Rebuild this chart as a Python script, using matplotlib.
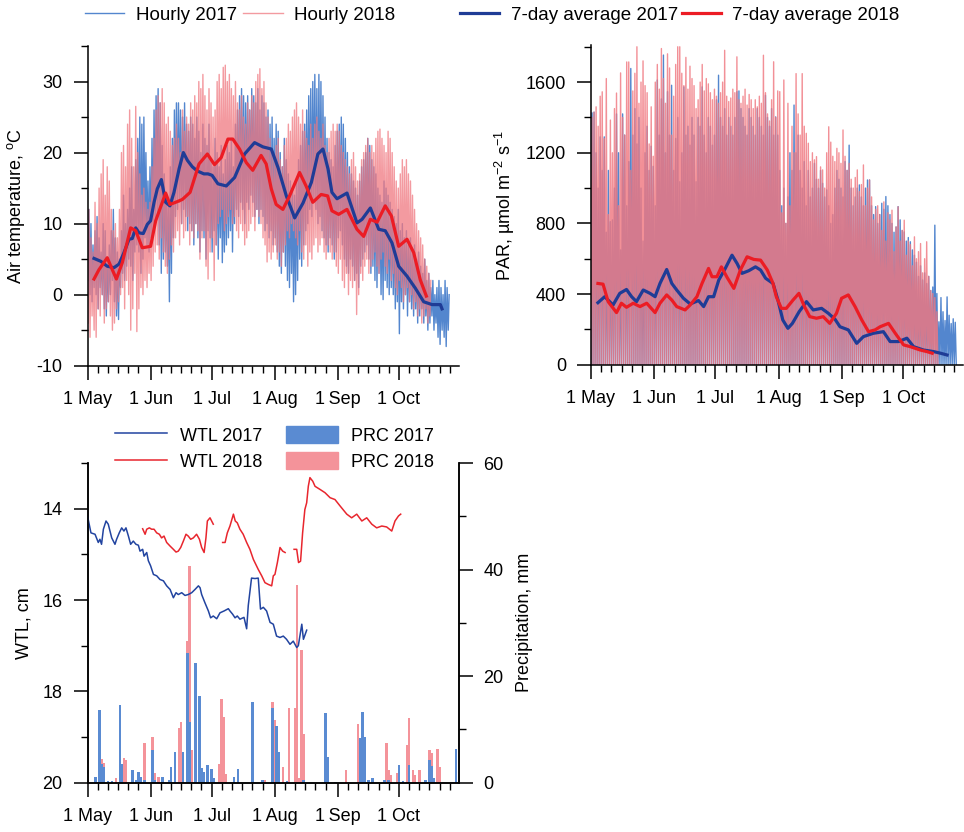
import numpy as np
import matplotlib
matplotlib.use('Agg')
import matplotlib.pyplot as plt
from matplotlib.lines import Line2D
from matplotlib.patches import Patch

plt.rcParams['font.family'] = ['Liberation Sans', 'DejaVu Sans']
plt.rcParams['mathtext.fontset'] = 'custom'
plt.rcParams['mathtext.rm'] = 'Liberation Sans'
plt.rcParams['mathtext.it'] = 'Liberation Sans:italic'
plt.rcParams['mathtext.default'] = 'regular'
plt.rcParams['axes.unicode_minus'] = False

# ---------------- axis ticks (day 0 = 1 May) ----------------
month_start_days = [0, 31, 61, 92, 123, 153]
month_labels = ['1 May', '1 Jun', '1 Jul', '1\u2009Aug', '1\u2009Sep', '1 Oct']

# ---------------- air temperature: daily max / min of hourly data ----------------
t2017_max = [12, 10, 7, 9, 11, 8, 6, 10, 9, 5,
             7, 9, 12, 8, 6, 5, 9, 14, 10, 12,
             15, 18, 12, 19, 22, 25, 24, 25, 20, 16,
             18, 22, 26, 28, 29, 27, 21, 17, 14, 13,
             18, 22, 26, 27, 27, 26, 25, 27, 24, 23,
             25, 24, 22, 25, 23, 20, 24, 22, 21, 24,
             19, 18, 22, 20, 18, 21, 17, 19, 21, 20,
             22, 18, 24, 26, 28, 29, 28, 27, 28, 26,
             29, 28, 27, 29, 26, 28, 27, 25, 26, 24,
             25, 22, 24, 23, 20, 18, 22, 19, 17, 16,
             15, 14, 16, 19, 21, 23, 24, 26, 28, 29,
             30, 31, 29, 31, 30, 28, 25, 22, 20, 19,
             18, 21, 23, 24, 25, 24, 22, 20, 18, 17,
             16, 15, 14, 16, 18, 19, 20, 22, 21, 19,
             18, 17, 15, 14, 13, 16, 15, 14, 13, 12,
             11, 10, 12, 9, 10, 8, 9, 7, 8, 6,
             7, 5, 6, 4, 3, 5, 2, 3, 1, 2,
             0, 1, 2, 1, 0, 2, 1, 0]
t2017_min = [2, 0, -1, 1, 0, -2, 1, 0, -2, -3,
             -1, 0, 2, -1, -3, -3.5, 1, 3, 2, 4,
             5, 4, 2, 6, 7, 6, 3, 5, 8, 7,
             6, 8, 9, 10, 11, 7, 3, 5, 6, 4,
             -1, 3, 8, 11, 12, 13, 10, 12, 11, 9,
             10, 9, 7, 10, 8, 6, 9, 8, 5, 9,
             8, 6, 9, 7, 5, 8, 4.5, 6, 7, 8,
             9, 6, 10, 12, 11, 13, 12, 10, 13, 12,
             14, 13, 11, 12, 10, 12, 11, 9, 10, 8,
             9, 7, 8, 6, 4, 3, 6, 4, 2, 1,
             3, -1, 0, 2, 5, 4, 7, 9, 10, 12,
             11, 13, 12, 10, 11, 9, 8, 7, 6, 8,
             7, 5, 6, 8, 9, 7, 5, 4, 3, 5,
             4, 2, 3, 1, 4, 5, 6, 7, 5, 3,
             4, 2, 1, 3, 0, -0.7, 2, 1, 0, 1,
             0, -2, -1, -5.5, -1, -2, 0, -3, -1, -2,
             -3, -2, -4, -3, -2, -4, -3, -5, -4, -3,
             -5, -4, -6, -7, -5, -6, -7.3, -5]
t2018_max = [12, 8, 6, 13, 10, 15, 17, 19, 14, 18,
             16, 12, 9, 10, 8, 12, 20, 21, 18, 24,
             26, 22, 18, 26.5, 20, 17, 14, 15, 13, 12,
             13, 18, 22, 26, 28, 27, 29, 27, 24, 25,
             23, 21, 22, 24, 22, 20, 26, 23, 25, 24,
             27, 26, 28, 27, 30, 29, 31, 28, 26, 29,
             27, 25, 26, 30, 31, 29, 32, 32.3, 30, 31,
             29, 28, 30, 27, 26, 28, 25, 24, 27, 26,
             28, 27, 30, 31, 31.8, 29, 30, 27, 25, 22,
             20, 19, 21, 22, 19, 18, 21, 22, 24, 23,
             25, 26, 27, 25, 24, 26, 23, 22, 21, 24,
             22, 24, 25, 23, 22, 24, 21, 20, 22, 23,
             24, 23, 24, 23, 21, 20, 19, 18, 17, 19,
             20, 18, 16, 17, 19, 20, 21, 22, 20, 21,
             20, 22, 23, 23.3, 22, 21, 20, 23, 22, 20,
             18, 16, 15, 17, 19, 18, 19, 17, 16, 14,
             12, 10, 9, 8, 7, 5, 4, 3, 2]
t2018_min = [-4, -6, -3, -5, -6, -2, -3, 0, -4, -2,
             -1, -3, -5, -4, -2, -1, 0, 1, -2, 2,
             0, -5, -2, 3, -5.2, -2, 1, 0, 2, 1,
             3, 2, 4, 6, 7, 5, 8, 6, 4, 3,
             5, 7, 6, 8, 9, 7, 10, 8, 9, 11,
             7, 9, 8, 10, 9, 5, 8, 9, 4, 2.2,
             6, 8, 2, 7, 10, 11, 12, 9, 10, 11,
             12, 10, 11, 9, 8, 10, 9, 7, 8, 9,
             10, 11, 9, 12, 11, 10, 8, 7, 4.6, 6,
             5, 6, 7, 5, 6, 4, 6, 7, 9, 8,
             10, 9, 8, 7, 9, 6, 5, 7, 4, 6,
             5, 7, 8, 6, 7, 8, 6, 5, 7, 6,
             5, 6, 4, 3, 5, 2, 1, 3, 0, 2,
             1, 2, -2.8, 0, 3, 2, 4, 5, 3, 4,
             5, 6, 4, 3, 5, 6, 4, 3, 5, 2,
             3, 1, 0, 2, 1, -1, 0, 1, -1, 0,
             -2, -1, -3, -2, -4, -3, -2, -4, -3]

# 7-day running average of air temperature
t7_2017_day = [3.2, 6.5, 9.7, 13, 15.5, 17.9, 20.4, 22, 23.7, 25.3, 27.4, 29.4, 31, 32.7, 34.3,
               36.3, 38.4, 40.5, 42.5, 45, 47.1, 49.1, 51.5, 54, 57.2, 59.2, 61.2, 64.1, 68.2,
               72.3, 77.2, 82.1, 86.2, 90.3, 93.6, 97.7, 101.8, 105.9, 110, 113.2, 115.7, 118.2,
               120.1, 122.6, 127.5, 132.4, 134.9, 139, 143.1, 146.3, 149.6, 152.9, 157, 161.1,
               165.2, 169.3, 173.4, 174.2]
t7_2017_val = [5.1, 4.7, 4.0, 3.8, 4.3, 5.9, 7.8, 7.9, 9.4, 8.7, 8.6, 9.9, 10.4, 13.0, 14.9,
               16.2, 13.0, 12.5, 14.4, 17.7, 20.0, 18.9, 18.0, 17.4, 17.0, 17.0, 16.8, 15.6, 15.3,
               16.5, 19.8, 21.4, 20.8, 20.5, 17.9, 13.9, 10.8, 12.9, 15.8, 19.8, 20.5, 17.7,
               14.4, 13.5, 14.3, 10.1, 10.6, 12.2, 9.2, 9.0, 7.3, 4.0, 2.6, 0.9,
               -1.0, -1.4, -1.4, -2.0]
t7_2018_day = [3.2, 5.6, 9.7, 12.2, 14.2, 17.1, 21.2, 23.7, 26.9, 31, 33.5, 38.4, 40.5, 43.3,
               46.6, 50.4, 54.8, 58.9, 62.4, 65.7, 69, 71.4, 74.7, 78, 81.2, 85.3, 87.8, 90.3,
               92.7, 96, 99.3, 104.2, 107.4, 110.7, 114.8, 118, 120.1, 123.4, 127.5, 132.4,
               135.7, 139, 142.3, 146.3, 149.3, 152.9, 157, 160.3, 163.5, 166.5]
t7_2018_val = [2.2, 3.5, 5.2, 3.5, 2.2, 4.5, 9.4, 9.0, 6.6, 6.8, 10.4, 14.3, 12.7, 13.0,
               13.4, 14.4, 18.4, 19.8, 18.3, 19.3, 21.9, 21.9, 20.5, 18.6, 17.5, 19.6, 18.4, 14.9,
               12.7, 12.0, 13.9, 17.2, 15.3, 13.0, 14.1, 13.9, 11.8, 11.3, 12.0, 9.2,
               8.2, 10.6, 10.2, 12.5, 11.1, 6.8, 7.8, 5.9, 2.1, -0.2]

# ---------------- PAR: daily peak of hourly data ----------------
par2017_max = [1426, 1430, 1200, 1000, 1290, 1100, 1290, 750, 1100, 810,
               820, 1000, 1420, 1200, 650, 1420, 1300, 900, 1150, 1677,
               1300, 1450, 1250, 1400, 1000, 700, 1200, 1350, 1100, 1237,
               1123, 900, 1612, 1300, 1505, 1753, 1200, 1546, 1300, 1582,
               1100, 1281, 1400, 1036, 1200, 1573, 1300, 1350, 1243, 1400,
               1300, 1036, 1400, 1350, 1573, 1300, 1200, 1400, 1350, 1243,
               1300, 1500, 1639, 1400, 1350, 1450, 1300, 1400, 1350, 1300,
               1400, 1546, 1550, 1450, 1400, 1350, 1300, 1450, 1400, 1350,
               1300, 1450, 1400, 1350, 1300, 1525, 1400, 1350, 1450, 1300,
               1403, 1300, 1100, 900, 1000, 800, 950, 1200, 1100, 1470,
               1200, 1300, 1100, 1000, 1150, 900, 1100, 950, 1000, 1140,
               1050, 1000, 1100, 1027, 950, 990, 900, 800, 850, 1000,
               1100, 1050, 1000, 950, 1150, 1100, 1243, 1000, 900, 950,
               1000, 1018, 950, 900, 1000, 1046, 1046, 900, 850, 895,
               800, 850, 914, 880, 952, 900, 850, 800, 750, 780,
               895, 820, 760, 752, 700, 720, 696, 650, 620, 580,
               500, 560, 480, 520, 460, 500, 420, 440, 790, 403,
               243, 380, 300, 250, 384, 280, 233, 260, 240]
par2018_max = [1400, 1430, 1460, 1350, 1520, 1545, 1280, 1620, 850, 1385,
               1200, 1450, 1538, 900, 1652, 1400, 1300, 1714, 1714, 1100,
               1550, 1650, 1800, 1480, 1600, 1720, 1580, 1540, 1250, 1460,
               1180, 1600, 1700, 1560, 1790, 1620, 1480, 1760, 1680, 1300,
               1520, 1700, 1800, 1800, 1650, 1580, 1740, 1560, 1690, 1620,
               1580, 1450, 1500, 1600, 1700, 1550, 1620, 1590, 1540, 1500,
               1560, 1520, 1480, 1540, 1600, 1780, 1520, 1490, 1510, 1560,
               1540, 1743, 1500, 1480, 1520, 1560, 1470, 1530, 1500, 1450,
               1500, 1460, 1520, 1480, 1752, 1540, 1420, 1380, 1500, 1715,
               1400, 1550, 1546, 860, 1612, 800, 1480, 900, 1350, 1200,
               1648, 1420, 1300, 1648, 1350, 1310, 1254, 1150, 1200, 1160,
               1178, 1050, 1120, 1103, 1000, 1200, 1347, 1260, 1180, 1150,
               1225, 1200, 1140, 1329, 1180, 1100, 1140, 1050, 1000, 1060,
               1103, 980, 1020, 1131, 900, 1000, 1046, 950, 820, 880,
               900, 850, 760, 922, 700, 860, 820, 875, 640, 780,
               894, 700, 760, 818, 620, 700, 680, 560, 724, 600,
               640, 686, 520, 600, 696, 500, 420, 403, 380, 300]

# 7-day running average of PAR
p7_2017_day = [3.4, 6.7, 10.8, 14.1, 17.4, 19.9, 22.3, 25.6, 28.9, 31.4, 33.8, 37.1, 39.6, 42,
               45.3, 48.6, 52.7, 55.2, 57.6, 60.1, 62.6, 65.8, 69.1, 71.6, 74, 77.3, 80.6, 83.1,
               85.6, 89.2, 91.6, 94, 96.5, 98.7, 102, 105.6, 108.9, 113, 116.3, 119.6, 122,
               126.1, 130.2, 133.5, 138.4, 143.3, 146.6, 150.7, 154.8, 158.1, 163, 168, 171.3,
               174.5]
p7_2017_val = [351, 385, 338, 404, 426, 385, 357, 423, 404, 385, 460, 539, 460, 423,
               376, 344, 363, 329, 385, 385, 479, 545, 620, 573, 517, 532, 554, 536,
               489, 460, 366, 253, 206, 234, 300, 357, 310, 319, 291, 257, 215,
               197, 121, 159, 178, 187, 131, 131, 150, 102, 83, 74, 65,
               55]
p7_2018_day = [3.4, 5.9, 8.4, 12.5, 14.9, 17.4, 20.7, 24, 27.3, 31.4, 33.8, 37.1, 39.6, 42,
               46.1, 48.6, 51.9, 54.4, 57.6, 59.3, 61.7, 63.9, 66.7, 70, 73.2, 76.5, 79.8, 83.1,
               86.4, 89.2, 90.8, 93.3, 95.7, 99, 101.9, 104.6, 107.2, 110.5, 113.8, 117, 120.3,
               122.8, 126.1, 129.4, 132.7, 136, 139.2, 141.7, 145.8, 149.1, 153.2, 156.5, 161.4,
               164.7, 167.2]
p7_2018_val = [460, 456, 357, 295, 348, 325, 348, 329, 348, 295, 348, 395, 366, 329,
               310, 338, 385, 460, 545, 498, 498, 554, 494, 432, 536, 611, 596, 592,
               536, 460, 385, 319, 319, 366, 404, 329, 272, 263, 272, 234, 291,
               376, 395, 329, 253, 187, 197, 215, 234, 178, 112, 102, 83,
               74, 65]

# ---------------- water table level (cm) ----------------
wtl2017_day = [0, 1.7, 3.7, 5.3, 6.1, 6.9, 7.8, 9.1, 10.2, 11.9, 13.5, 14.3, 15.6, 16.8, 17.9,
               18.9, 20.1, 21.2, 22.5, 23.8, 25.0, 25.8, 27.1, 27.8, 29.1, 29.9, 31.0, 32.4, 34.0,
               35.6, 37.3, 38.9, 40.6, 42.2, 43.5, 44.6, 46.3, 47.9, 49.5, 51.2, 52.8, 54.5, 55.3,
               56.1, 57.7, 59.4, 60.5, 61.8, 63.5, 65.1, 67.1, 69.2, 70.0, 71.3, 72.5, 73.6, 74.9,
               76.9, 78.2, 79.0, 80.6, 82.3, 83.9, 85.0, 86.4, 88.0, 89.7, 91.3, 92.9, 94.6, 96.2,
               97.8, 99.5, 101.1, 102.8, 103.6, 105.3, 106.1, 107.7]
wtl2017_val = [14.16, 14.53, 14.56, 14.74, 14.67, 14.78, 14.45, 14.27, 14.34, 14.64, 14.78, 14.67,
               14.53, 14.42, 14.49, 14.42, 14.60, 14.78, 14.71, 14.78, 14.80, 14.93, 14.89, 15.04,
               14.96, 15.14, 15.25, 15.44, 15.47, 15.55, 15.58, 15.69, 15.77, 15.95, 15.84, 15.88,
               15.84, 15.90, 15.88, 15.84, 15.77, 15.69, 15.73, 15.88, 16.06, 16.24, 16.39, 16.35,
               16.41, 16.28, 16.24, 16.19, 16.24, 16.31, 16.39, 16.35, 16.42, 16.38, 16.63, 16.12,
               15.52, 15.53, 15.52, 16.20, 16.16, 16.24, 16.49, 16.53, 16.79, 16.82, 16.79, 16.86,
               16.97, 16.90, 17.04, 17.00, 16.53, 16.86, 16.66]
# gaps in the 2018 record are marked with NaN
wtl2018_day = [27.1, 28.3, 29.1, 30.4, 31.5, 32.7, 34.0, 35.3, 36.4, 37.6, 38.9, 40.6, 42.2, 43.5,
               44.6, 45.8, 47.1, 48.4, 49.5, 50.7, 52.0, 53.6, 55.0, 56.1, 57.3, 58.2, 58.9, 60.2,
               61.8, 64.0, 66.4, 67.6, 68.7, 70.0, 71.7, 72.6, 73.6, 74.9, 76.5, 78.2, 79.8, 81.5,
               83.9, 85.6, 87.2, 88.9, 90.5, 91.3, 92.1, 93.3, 94.6, 95.9, 97.1, 99.0, 101.5,
               102.8, 103.7, 104.7, 105.7, 106.8, 107.7, 108.5, 109.3, 110.7, 111.8, 114.3, 116.7,
               119.2, 121.6, 124.1, 127.4, 129.8, 132.3, 134.8, 137.2, 139.7, 142.1, 144.6, 147.0,
               149.5, 151.1, 152.8, 153.9]
wtl2018_val = [14.44, 14.56, 14.45, 14.42, 14.45, 14.45, 14.53, 14.56, 14.64, 14.60, 14.74, 14.82,
               14.89, 14.95, 14.93, 14.85, 14.71, 14.56, 14.60, 14.67, 14.64, 14.56, 14.67, 14.85,
               14.96, 14.64, 14.27, 14.20, 14.34, np.nan, 14.74, 14.74, 14.53, 14.38, 14.12, 14.27,
               14.31, 14.45, 14.56, 14.74, 14.89, 15.11, 15.33, 15.47, 15.62, 15.66, 15.69, 15.47,
               15.44, 15.18, 14.85, 14.93, 14.96, np.nan, 14.89, 14.89, 15.18, 15.15, 14.53, 14.02,
               13.87, 13.51, 13.32, 13.40, 13.51, 13.58, 13.65, 13.76, 13.80, 13.94, 14.12, 14.20,
               14.12, 14.27, 14.20, 14.34, 14.42, 14.38, 14.40, 14.49, 14.27, 14.16, 14.12]

# ---------------- daily precipitation (mm), rainy days only ----------------
prc2017_day = [4, 6, 7, 8, 10, 12, 16, 17, 22, 24, 25, 26, 28, 32, 33, 37, 40, 41, 43, 47,
               49, 50, 53, 55, 56, 57, 59, 61, 62, 72, 74, 81, 86, 91, 93, 94, 98, 106, 117,
               118, 122, 134, 135, 136, 138, 140, 146, 148, 153, 155, 158, 166, 168, 169, 170, 181]
prc2017_val = [1, 13.6, 3.6, 3, 0.3, 0.3, 14.6, 3.5, 2.4, 0.5, 2.1, 1, 0.5, 6.1, 0.5, 1.1, 0.5,
               3.0, 5.8, 5.8, 24.3, 11.3, 22.4, 16.2, 2.7, 2, 3.3, 2.5, 0.8, 1.1, 2.5, 15.2, 0.5,
               14, 10.6, 5.8, 0.4, 0.6, 13, 4.9, 0.2, 8.3, 13.3, 8.6, 0.5, 0.8, 0.5, 0.5, 3.3,
               0.3, 3.3, 0.5, 4.2, 3.1, 0.8, 6.3]
prc2018_day = [0, 7, 8, 14, 18, 19, 28, 32, 33, 35, 43, 45, 46, 47, 49, 50, 51, 53, 55, 65,
               66, 67, 68, 86, 87, 91, 92, 96, 99, 102, 103, 104, 105, 106, 117, 127, 133, 147,
               148, 149, 152, 157, 158, 160, 161, 163, 168, 169, 172, 173]
prc2018_val = [0.5, 4.4, 3.7, 0.8, 4.6, 4.2, 7.4, 8.6, 1.8, 1.0, 5.8, 10.2, 11.4, 5.5, 26.5,
               40.6, 6.1, 2.3, 1.5, 3.6, 15.8, 12.4, 1.7, 0.6, 0.6, 15.2, 11.7, 3.0, 14.0, 14.0,
               37.1, 0.8, 24.9, 9.2, 5.2, 2.3, 11.1, 7.4, 2.3, 1.5, 1.8, 7.1, 12.1, 2.3, 1.5,
               2.3, 6.1, 5.5, 6.4, 3.0]

# ---------------- styles ----------------
C_BLUE_H = '#4a80cc'
C_RED_H = '#f07880'
C_BLUE_A = '#1f3c96'
C_RED_A = '#ec1c24'
C_BLUE_P = '#5a8bd2'
C_RED_P = '#f4939a'
FS = 13
XMAX = 182.3


def hourly_temp(tmax, tmin):
    n = len(tmax)
    d = np.arange(n)
    x = np.column_stack([d + 0.25, d + 0.7]).ravel()
    y = np.column_stack([tmin, tmax]).ravel()
    return x, y


def hourly_par(pmax):
    n = len(pmax)
    d = np.arange(n)
    x = np.append(np.column_stack([d + 0.0, d + 0.5]).ravel(), n)
    y = np.append(np.column_stack([np.zeros(n), pmax]).ravel(), 0)
    return x, y


def style_xaxis(ax):
    ax.set_xlim(0, XMAX)
    ax.set_xticks(month_start_days)
    ax.set_xticklabels(month_labels)
    minors = [m + k for m in month_start_days for k in (5, 10, 15, 20, 25)]
    ax.set_xticks(minors, minor=True)
    ax.tick_params(axis='x', which='major', direction='out', length=10, width=1.1,
                   pad=8, labelsize=FS)
    ax.tick_params(axis='x', which='minor', direction='out', length=5, width=1.0)


def style_y(ax):
    ax.tick_params(axis='y', which='major', direction='out', length=10, width=1.1,
                   pad=8, labelsize=FS)
    ax.tick_params(axis='y', which='minor', direction='out', length=5, width=1.0)


fig = plt.figure(figsize=(9.64, 8.32), dpi=100)

# ---------------- temperature ----------------
axT = fig.add_axes([87.5 / 964, 1 - 365.7 / 832, 371 / 964, 319.7 / 832])
x, y = hourly_temp(t2017_max, t2017_min)
lb, = axT.plot(x, y, color=C_BLUE_H, lw=1.0, alpha=0.95, zorder=1)
x, y = hourly_temp(t2018_max, t2018_min)
lr, = axT.plot(x, y, color=C_RED_H, lw=1.0, alpha=0.75, zorder=2)
ab, = axT.plot(t7_2017_day, t7_2017_val, color=C_BLUE_A, lw=2.3, zorder=3)
ar, = axT.plot(t7_2018_day, t7_2018_val, color=C_RED_A, lw=2.3, zorder=4)
axT.set_ylim(-10, 35)
axT.set_yticks([-10, 0, 10, 20, 30])
axT.set_yticks([-5, 5, 15, 25, 35], minor=True)
axT.set_ylabel(r'Air temperature, $^{\mathrm{o}}$C', fontsize=FS)
axT.yaxis.set_label_coords(-0.163, 0.5)
style_xaxis(axT)
style_y(axT)

# ---------------- PAR ----------------
axP = fig.add_axes([591 / 964, 1 - 364.7 / 832, 372 / 964, 319.7 / 832])
x, y = hourly_par(par2017_max)
axP.plot(x, y, color=C_BLUE_H, lw=1.0, alpha=0.95, zorder=1)
x, y = hourly_par(par2018_max)
axP.plot(x, y, color=C_RED_H, lw=1.0, alpha=0.82, zorder=2)
axP.plot(p7_2017_day, p7_2017_val, color=C_BLUE_A, lw=2.3, zorder=3)
axP.plot(p7_2018_day, p7_2018_val, color=C_RED_A, lw=2.3, zorder=4)
axP.set_ylim(0, 1810)
axP.set_yticks([0, 400, 800, 1200, 1600])
axP.set_yticks([200, 600, 1000, 1400, 1800], minor=True)
axP.set_ylabel('PAR, \u00b5mol m$^{-2}$ s$^{-1}$', fontsize=FS)
axP.yaxis.set_label_coords(-0.2, 0.5)
style_xaxis(axP)
style_y(axP)

for ax in (axT, axP):
    ax.spines['top'].set_visible(False)
    ax.spines['right'].set_visible(False)
    for s in ('left', 'bottom'):
        ax.spines[s].set_linewidth(1.1)

# ---------------- WTL & precipitation ----------------
axW = fig.add_axes([87.5 / 964, 1 - 782.7 / 832, 371 / 964, 319.7 / 832])
axR = axW.twinx()
axR.bar(prc2018_day, prc2018_val, width=1.3, color=C_RED_P, align='center', zorder=1)
axR.bar(prc2017_day, prc2017_val, width=1.3, color=C_BLUE_P, align='center', zorder=2)
axR.set_ylim(0, 60)
axR.set_yticks([0, 20, 40, 60])
axR.set_yticks([10, 30, 50], minor=True)
axR.tick_params(axis='y', which='major', direction='out', length=10, width=1.1, pad=8,
                labelsize=FS)
axR.tick_params(axis='y', which='minor', direction='out', length=5, width=1.0)
axR.set_ylabel('Precipitation, mm', fontsize=FS, rotation=90)
axR.yaxis.set_label_coords(1.155, 0.5)

w17, = axW.plot(wtl2017_day, wtl2017_val, color='#2244a0', lw=1.1)
w18, = axW.plot(wtl2018_day, wtl2018_val, color='#e8262e', lw=1.1)
axW.set_ylim(20, 13)
axW.set_yticks([14, 16, 18, 20])
axW.set_yticks([13, 15, 17, 19], minor=True)
axW.set_ylabel('WTL, cm', fontsize=FS)
axW.yaxis.set_label_coords(-0.148, 0.5)
style_xaxis(axW)
style_y(axW)
axW.set_zorder(axR.get_zorder() + 1)
axW.patch.set_visible(False)
for ax in (axW, axR):
    ax.spines['top'].set_visible(False)
    for s in ('left', 'bottom', 'right'):
        ax.spines[s].set_linewidth(1.1)

# ---------------- legends ----------------
ytop = 1 - 15 / 832
fig.legend([lb, lr], ['Hourly 2017', 'Hourly 2018'], loc='center left',
           bbox_to_anchor=(85 / 964, ytop), ncol=2, frameon=False, fontsize=13.5,
           handlelength=2.1, handletextpad=0.6, columnspacing=0.35, borderpad=0,
           borderaxespad=0)
fig.legend([ab, ar], ['7-day average 2017', '7-day average 2018'], loc='center left',
           bbox_to_anchor=(460 / 964, ytop), ncol=2, frameon=False, fontsize=13.5,
           handlelength=2.1, handletextpad=0.6, columnspacing=0.2, borderpad=0,
           borderaxespad=0)

fig.legend([w17, w18, Patch(color=C_BLUE_P), Patch(color=C_RED_P)],
           ['WTL 2017', 'WTL 2018', 'PRC 2017', 'PRC 2018'], loc='center left',
           bbox_to_anchor=(115 / 964, 1 - 448.5 / 832), ncol=2, frameon=False, fontsize=FS,
           handlelength=2.9, handleheight=1.1, handletextpad=0.7, columnspacing=1.3,
           labelspacing=0.4, borderpad=0, borderaxespad=0)

fig.savefig('out.png', dpi=100)
